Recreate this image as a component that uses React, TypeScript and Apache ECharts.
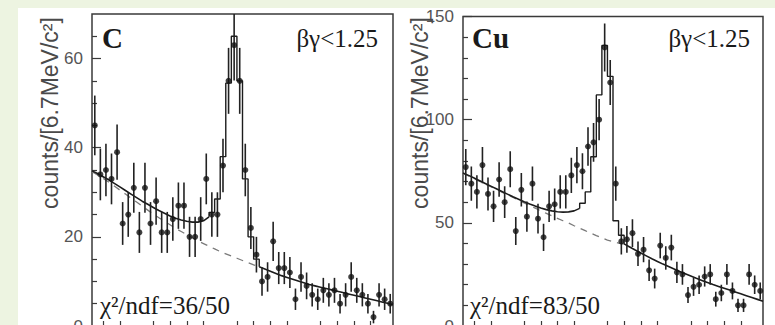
import React, { useEffect, useRef } from "react";
import * as echarts from "echarts";

// ---- x binning (GeV/c^2), 54 bins of 6.7 MeV ----
const X_MIN = 0.84667;
const BIN = 0.0066667;
const N_BINS = 54;
const X_MAX = X_MIN + N_BINS * BIN;

const X_MINOR_TICKS = [0.86, 0.88, 0.92, 0.94, 0.96, 0.98, 1.02, 1.04, 1.06, 1.08, 1.12, 1.14, 1.16, 1.18];
const X_MAJOR_TICKS = [0.9, 1.0, 1.1, 1.2];

const C_Y_MINOR = [5, 10, 15, 25, 30, 35, 45, 50, 55, 65];
const CU_Y_MINOR = [10, 20, 30, 40, 60, 70, 80, 90, 110, 120, 130, 140];

// ---- Carbon ----
const C_COUNTS = [45, 34, 35, 33, 39, 23, 25, 31, 21, 31, 23, 28, 21, 21, 24, 27, 27, 20, 20, 24, 33, 25, 25, 36, 55, 63, 55, 35, 22, 16, 10, 11, 19, 13, 13, 12, 6, 11, 9, 7, 6, 8, 7, 8, 5, 7, 11, 8, 7, 5, 2, 7, 6, 5];
const C_ERRORS = [6.7, 5.8, 5.9, 5.7, 6.2, 4.8, 5.0, 5.6, 4.6, 5.6, 4.8, 5.3, 4.6, 4.6, 4.9, 5.2, 5.2, 4.5, 4.5, 4.9, 5.7, 5.0, 5.0, 6.0, 7.4, 7.9, 7.4, 5.9, 4.7, 4.0, 3.2, 3.3, 4.4, 3.6, 3.6, 3.5, 2.4, 3.3, 3.0, 2.6, 2.4, 2.8, 2.6, 2.8, 2.2, 2.6, 3.3, 2.8, 2.6, 2.2, 1.4, 2.6, 2.4, 2.2];
// total fit at bin edges 0..21
const C_FIT_LOW = [34.8, 34.2, 33.5, 32.8, 32.0, 31.2, 30.4, 29.6, 28.8, 28.0, 27.3, 26.6, 25.9, 25.3, 24.7, 24.2, 23.8, 23.5, 23.3, 23.3, 23.6, 24.5];
// total fit histogram, bins 21..29
const C_PEAK_FIRST_BIN = 21;
const C_FIT_PEAK = [25.5, 28.5, 38, 54.5, 65, 55, 33, 20, 15];
// total fit at bin edges 30..54
const C_HIGH_FIRST_EDGE = 30;
const C_FIT_HIGH = [13.3, 12.8, 12.3, 11.8, 11.3, 10.9, 10.5, 10.1, 9.7, 9.3, 9.0, 8.7, 8.4, 8.1, 7.8, 7.5, 7.2, 6.9, 6.6, 6.3, 6.0, 5.7, 5.4, 5.1, 4.8];
// background at bin edges 0..30
const C_BKG = [34.6, 33.9, 33.1, 32.3, 31.4, 30.5, 29.6, 28.7, 27.8, 26.9, 26.0, 25.1, 24.3, 23.5, 22.7, 21.9, 21.2, 20.5, 19.8, 19.1, 18.5, 17.9, 17.3, 16.7, 16.2, 15.7, 15.2, 14.7, 14.2, 13.7, 13.3];

// ---- Copper ----
const CU_COUNTS = [77, 69, 65, 78, 64, 58, 71, 60, 76, 46, 66, 53, 69, 52, 43, 58, 59, 65, 65, 73, 78, 75, 87, 89, 100, 135, 118, 69, 41, 42, 45, 35, 37, 27, 23, 39, 33, 38, 26, 25, 15, 19, 20, 24, 25, 13, 16, 25, 17, 10, 10, 25, 20, 17];
const CU_ERRORS = [8.8, 8.3, 8.1, 8.8, 8.0, 7.6, 8.4, 7.7, 8.7, 6.8, 8.1, 7.3, 8.3, 7.2, 6.6, 7.6, 7.7, 8.1, 8.1, 8.5, 8.8, 8.7, 9.3, 9.4, 10.0, 11.6, 10.9, 8.3, 6.4, 6.5, 6.7, 5.9, 6.1, 5.2, 4.8, 6.2, 5.7, 6.2, 5.1, 5.0, 3.9, 4.4, 4.5, 4.9, 5.0, 3.6, 4.0, 5.0, 4.1, 3.2, 3.2, 5.0, 4.5, 4.1];
const CU_FIT_LOW = [74.2, 73.0, 71.7, 70.4, 69.1, 67.8, 66.5, 65.2, 63.9, 62.6, 61.4, 60.2, 59.1, 58.1, 57.2, 56.4, 55.8, 55.4, 55.2, 55.3, 55.8, 57.0];
const CU_PEAK_FIRST_BIN = 21;
const CU_FIT_PEAK = [59.5, 65, 82, 112, 136, 121, 51, 44];
const CU_HIGH_FIRST_EDGE = 29;
const CU_FIT_HIGH = [39.8, 38.3, 36.8, 35.4, 34.0, 32.6, 31.3, 30.0, 28.8, 27.6, 26.4, 25.3, 24.2, 23.1, 22.1, 21.1, 20.1, 19.2, 18.3, 17.4, 16.5, 15.6, 14.7, 13.8, 12.9, 12.0];
const CU_BKG = [74.0, 72.7, 71.4, 70.1, 68.8, 67.5, 66.2, 64.9, 63.6, 62.3, 61.0, 59.7, 58.4, 57.1, 55.8, 54.6, 53.4, 52.2, 51.0, 49.9, 48.6, 47.4, 46.2, 45.0, 43.8, 42.7, 41.6, 40.9, 40.2, 39.6];

const AXIS_COLOR = "#3a3a3a";
const INK = "#1c1c1c";

const edgeX = (i: number) => X_MIN + i * BIN;
const centerX = (i: number) => X_MIN + (i + 0.5) * BIN;

function panelSeries(
  xi: number,
  yi: number,
  counts: number[],
  errors: number[],
  fitLow: number[],
  peakFirst: number,
  fitPeak: number[],
  highFirst: number,
  fitHigh: number[],
  bkg: number[]
) {
  const low = fitLow.map((v, i) => [edgeX(i), v]);
  const high = fitHigh.map((v, i) => [edgeX(highFirst + i), v]);
  const peak: number[][] = [[edgeX(peakFirst), fitLow[fitLow.length - 1]]];
  fitPeak.forEach((v, j) => {
    peak.push([edgeX(peakFirst + j), v]);
    peak.push([edgeX(peakFirst + j + 1), v]);
  });
  peak.push([edgeX(highFirst), fitHigh[0]]);
  const bk = bkg.map((v, i) => [edgeX(i), v]);
  const pts = counts.map((v, i) => [centerX(i), v]);
  const errs = counts.map((v, i) => [centerX(i), v, errors[i]]);
  const lineBase = {
    type: "line",
    xAxisIndex: xi,
    yAxisIndex: yi,
    showSymbol: false,
    symbol: "none",
    silent: true,
    clip: true,
  };
  return [
    { ...lineBase, data: bk, z: 2, lineStyle: { color: "#7a7a7a", width: 1.3, type: [7, 6] } },
    { ...lineBase, data: low, z: 3, lineStyle: { color: INK, width: 1.6 } },
    { ...lineBase, data: peak, z: 3, lineStyle: { color: INK, width: 1.4 } },
    { ...lineBase, data: high, z: 3, lineStyle: { color: INK, width: 1.6 } },
    {
      type: "custom",
      xAxisIndex: xi,
      yAxisIndex: yi,
      clip: true,
      z: 4,
      data: errs,
      renderItem: (params: any, api: any) => {
        const x = api.value(0);
        const y = api.value(1);
        const e = api.value(2);
        const a = api.coord([x, y + e]);
        const b = api.coord([x, y - e]);
        return {
          type: "line",
          shape: { x1: a[0], y1: a[1], x2: b[0], y2: b[1] },
          style: { stroke: "#222", lineWidth: 1.6 },
        };
      },
    },
    {
      type: "scatter",
      xAxisIndex: xi,
      yAxisIndex: yi,
      data: pts,
      symbol: "circle",
      symbolSize: 6,
      z: 5,
      itemStyle: { color: "#111" },
      silent: true,
    },
  ];
}

function xAxes(gridIndex: number) {
  const base = (ticks: number[], len: number) => ({
    type: "value",
    gridIndex,
    min: X_MIN,
    max: X_MAX,
    axisLine: { show: false },
    axisLabel: { show: false },
    splitLine: { show: false },
    axisTick: {
      show: true,
      inside: true,
      length: len,
      customValues: ticks,
      lineStyle: { color: AXIS_COLOR, width: 1.2 },
    },
  });
  return [base(X_MINOR_TICKS, 5), base(X_MAJOR_TICKS, 9)];
}

function yAxes(gridIndex: number, max: number, interval: number, minor: number[]) {
  return [
    {
      type: "value",
      gridIndex,
      position: "left",
      min: 0,
      max,
      interval,
      axisLine: { show: false },
      splitLine: { show: false },
      axisTick: { show: true, inside: true, length: 9, lineStyle: { color: AXIS_COLOR, width: 1.2 } },
      axisLabel: {
        show: true,
        showMaxLabel: max % interval === 0,
        margin: 9,
        color: "#555",
        fontSize: 17,
        fontFamily: "Liberation Sans",
      },
    },
    {
      type: "value",
      gridIndex,
      position: "left",
      min: 0,
      max,
      axisLine: { show: false },
      splitLine: { show: false },
      axisLabel: { show: false },
      axisTick: {
        show: true,
        inside: true,
        length: 5,
        customValues: minor,
        lineStyle: { color: AXIS_COLOR, width: 1.2 },
      },
    },
  ];
}

const OX = 18;
const OY = 8;

function txt(x: number, y: number, text: string, font: any, align: string, extra: any = {}) {
  return {
    type: "text",
    x: x - OX,
    y: y - OY,
    silent: true,
    z: 10,
    ...extra,
    style: {
      text,
      fill: font.fill || "#1a1a1a",
      fontSize: font.size,
      fontFamily: font.family,
      fontWeight: font.weight || "normal",
      align,
      textAlign: align,
      verticalAlign: "middle",
      textVerticalAlign: "middle",
    },
  };
}

const SERIF = "Liberation Serif";
const SANS = "Liberation Sans";

const option: any = {
  animation: false,
  backgroundColor: "#ffffff",
  grid: [
    { left: 92 - OX, top: 14 - OY, width: 301, height: 312, show: true, borderColor: AXIS_COLOR, borderWidth: 1.5, backgroundColor: "#fff" },
    { left: 463 - OX, top: 14 - OY, width: 300, height: 312, show: true, borderColor: AXIS_COLOR, borderWidth: 1.5, backgroundColor: "#fff" },
  ],
  xAxis: [...xAxes(0), ...xAxes(1)],
  yAxis: [...yAxes(0, 70, 20, C_Y_MINOR), ...yAxes(1, 150, 50, CU_Y_MINOR)],
  series: [
    ...panelSeries(0, 0, C_COUNTS, C_ERRORS, C_FIT_LOW, C_PEAK_FIRST_BIN, C_FIT_PEAK, C_HIGH_FIRST_EDGE, C_FIT_HIGH, C_BKG),
    ...panelSeries(2, 2, CU_COUNTS, CU_ERRORS, CU_FIT_LOW, CU_PEAK_FIRST_BIN, CU_FIT_PEAK, CU_HIGH_FIRST_EDGE, CU_FIT_HIGH, CU_BKG),
  ],
  graphic: [
    txt(102, 38, "C", { size: 29, family: SERIF, weight: "bold" }, "left"),
    txt(378, 38, "βγ<1.25", { size: 25, family: SERIF }, "right"),
    txt(100, 305, "χ²/ndf=36/50", { size: 25, family: SERIF }, "left"),
    txt(472, 38, "Cu", { size: 29, family: SERIF, weight: "bold" }, "left"),
    txt(750, 38, "βγ<1.25", { size: 25, family: SERIF }, "right"),
    txt(470, 305, "χ²/ndf=83/50", { size: 25, family: SERIF }, "left"),
    txt(50, 113, "counts/[6.7MeV/c²]", { size: 23, family: SANS, fill: "#4a4a4a" }, "center", { rotation: Math.PI / 2 }),
    txt(420, 113, "counts/[6.7MeV/c²]", { size: 23, family: SANS, fill: "#4a4a4a" }, "center", { rotation: Math.PI / 2 }),
  ],
};

export default function App() {
  const ref = useRef<HTMLDivElement>(null);
  useEffect(() => {
    const chart = echarts.init(ref.current as HTMLDivElement, null, { renderer: "svg" });
    chart.setOption(option);
    return () => chart.dispose();
  }, []);
  return (
    <div
      style={{
        position: "fixed",
        left: 0,
        top: 0,
        width: 775,
        height: 345,
        background: "#edf4e1",
        overflow: "hidden",
      }}
    >
      <div
        ref={ref}
        style={{ position: "absolute", left: OX, top: OY, width: 775 - OX, height: 345 - OY, background: "#fff" }}
      />
    </div>
  );
}
